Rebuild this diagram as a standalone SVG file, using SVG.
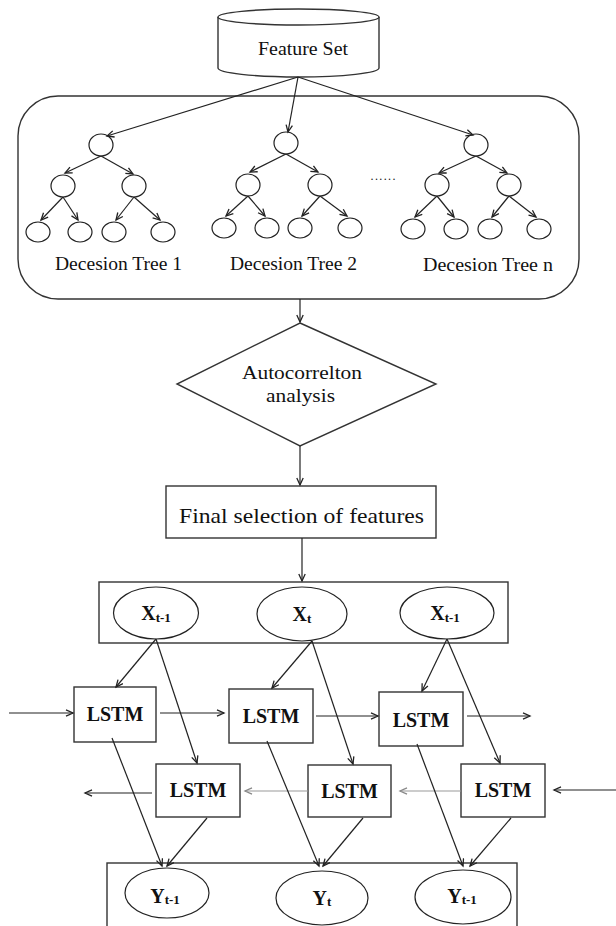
<svg xmlns="http://www.w3.org/2000/svg" width="616" height="926" viewBox="0 0 616 926">
<defs>
<marker id="arr" markerUnits="userSpaceOnUse" markerWidth="10" markerHeight="10" refX="8" refY="4" orient="auto">
<path d="M1,0.8 L8,4 L1,7.2" fill="none" stroke="#222" stroke-width="1.3"/>
</marker>
<marker id="arrg" markerUnits="userSpaceOnUse" markerWidth="10" markerHeight="10" refX="8" refY="4" orient="auto">
<path d="M1,0.8 L8,4 L1,7.2" fill="none" stroke="#888" stroke-width="1.3"/>
</marker>
<style>
.t{font-family:"Liberation Serif","Times New Roman",serif;fill:#111;}
.b{font-weight:bold;}
.sh{fill:#fff;stroke:#333;stroke-width:1.4;}
.c{fill:#fff;stroke:#222;stroke-width:1.2;}
.ln{fill:none;stroke:#222;stroke-width:1.2;marker-end:url(#arr);}
.lg{fill:none;stroke:#999;stroke-width:1.2;marker-end:url(#arrg);}
</style>
</defs>
<rect width="616" height="926" fill="#fff"/>

<g id="container">
<rect class="sh" x="18" y="96" width="561" height="203" rx="40" ry="40" stroke="#555" stroke-width="1.6"/>
</g>

<g id="feature-set">
<path class="sh" d="M218,17 L218,68 A80.5,9 0 0 0 379,68 L379,17"/>
<ellipse class="sh" cx="298.5" cy="17" rx="80.5" ry="8"/>
<text class="t" x="303" y="55" font-size="19" text-anchor="middle" textLength="90" lengthAdjust="spacingAndGlyphs">Feature Set</text>
</g>

<g id="tree1">
<ellipse class="c" cx="101" cy="145" rx="12" ry="11"/>
<ellipse class="c" cx="63" cy="186" rx="12" ry="11"/>
<ellipse class="c" cx="134" cy="186" rx="12" ry="11"/>
<ellipse class="c" cx="38" cy="232" rx="12" ry="10"/>
<ellipse class="c" cx="80" cy="232" rx="12" ry="10"/>
<ellipse class="c" cx="114" cy="232" rx="12" ry="10"/>
<ellipse class="c" cx="163" cy="232" rx="12" ry="10"/>
<text class="t" x="118.5" y="270" font-size="18" text-anchor="middle" textLength="127" lengthAdjust="spacingAndGlyphs">Decesion Tree 1</text>
</g>

<g id="tree2">
<ellipse class="c" cx="286" cy="143" rx="12" ry="11"/>
<ellipse class="c" cx="248" cy="185" rx="12" ry="11"/>
<ellipse class="c" cx="320" cy="185" rx="12" ry="11"/>
<ellipse class="c" cx="224" cy="228" rx="12" ry="10"/>
<ellipse class="c" cx="267" cy="228" rx="12" ry="10"/>
<ellipse class="c" cx="300" cy="228" rx="12" ry="10"/>
<ellipse class="c" cx="350" cy="228" rx="12" ry="10"/>
<text class="t" x="293.5" y="270" font-size="18" text-anchor="middle" textLength="127" lengthAdjust="spacingAndGlyphs">Decesion Tree 2</text>
</g>

<g id="dots">
<text class="t" x="383" y="180" font-size="12" text-anchor="middle" textLength="25" lengthAdjust="spacing">......</text>
</g>

<g id="treen">
<ellipse class="c" cx="476" cy="145" rx="12" ry="11"/>
<ellipse class="c" cx="437" cy="185" rx="12" ry="11"/>
<ellipse class="c" cx="509" cy="185" rx="12" ry="11"/>
<ellipse class="c" cx="413" cy="229" rx="12" ry="10"/>
<ellipse class="c" cx="456" cy="229" rx="12" ry="10"/>
<ellipse class="c" cx="490" cy="229" rx="12" ry="10"/>
<ellipse class="c" cx="539" cy="229" rx="12" ry="10"/>
<text class="t" x="488" y="271" font-size="18" text-anchor="middle" textLength="130" lengthAdjust="spacingAndGlyphs">Decesion Tree n</text>
</g>

<g id="autocorrelation">
<polygon class="sh" points="300,323 436,384 300,446 177,384"/>
<text class="t" x="302" y="379" font-size="18" text-anchor="middle" textLength="120" lengthAdjust="spacingAndGlyphs">Autocorrelton</text>
<text class="t" x="300.5" y="402" font-size="18" text-anchor="middle" textLength="69" lengthAdjust="spacingAndGlyphs">analysis</text>
</g>

<g id="final-selection">
<rect class="sh" x="166" y="486" width="270" height="52"/>
<text class="t" x="301.5" y="523" font-size="21" text-anchor="middle" textLength="245" lengthAdjust="spacingAndGlyphs">Final selection of features</text>
</g>

<g id="x-layer">
<rect class="sh" x="99" y="582" width="409" height="61"/>
<ellipse class="c" cx="156" cy="613" rx="42.5" ry="26"/>
<ellipse class="c" cx="302" cy="614" rx="45" ry="27"/>
<ellipse class="c" cx="447" cy="613" rx="47" ry="26"/>
<text class="t b" x="156" y="620" font-size="20" text-anchor="middle">X<tspan font-size="13" dy="2">t-1</tspan></text>
<text class="t b" x="302" y="621" font-size="20" text-anchor="middle">X<tspan font-size="13" dy="2">t</tspan></text>
<text class="t b" x="445" y="620" font-size="20" text-anchor="middle">X<tspan font-size="13" dy="2">t-1</tspan></text>
</g>

<g id="lstm-f1"><rect class="sh" x="74" y="687" width="82" height="55"/><text class="t b" x="115" y="721" font-size="20" text-anchor="middle">LSTM</text></g>
<g id="lstm-f2"><rect class="sh" x="229" y="689" width="84" height="54"/><text class="t b" x="271" y="723" font-size="20" text-anchor="middle">LSTM</text></g>
<g id="lstm-f3"><rect class="sh" x="379" y="692" width="84" height="54"/><text class="t b" x="421" y="727" font-size="20" text-anchor="middle">LSTM</text></g>
<g id="lstm-b1"><rect class="sh" x="156" y="764" width="84" height="53"/><text class="t b" x="198" y="797" font-size="20" text-anchor="middle">LSTM</text></g>
<g id="lstm-b2"><rect class="sh" x="308" y="765" width="83" height="52"/><text class="t b" x="349.5" y="798" font-size="20" text-anchor="middle">LSTM</text></g>
<g id="lstm-b3"><rect class="sh" x="461" y="764" width="84" height="53"/><text class="t b" x="503" y="797" font-size="20" text-anchor="middle">LSTM</text></g>

<g id="y-layer">
<rect class="sh" x="107" y="863" width="410" height="80"/>
<ellipse class="c" cx="167" cy="893" rx="42" ry="25"/>
<ellipse class="c" cx="322" cy="898" rx="46" ry="27"/>
<ellipse class="c" cx="463" cy="897" rx="48" ry="27"/>
<text class="t b" x="165" y="903" font-size="20" text-anchor="middle">Y<tspan font-size="13" dy="1">t-1</tspan></text>
<text class="t b" x="322" y="905" font-size="20" text-anchor="middle">Y<tspan font-size="13" dy="1">t</tspan></text>
<text class="t b" x="462" y="903" font-size="20" text-anchor="middle">Y<tspan font-size="13" dy="1">t-1</tspan></text>
</g>

<g id="connectors">
<path class="ln" d="M298,77 L107,136"/>
<path class="ln" d="M298,77 L288,132"/>
<path class="ln" d="M298,77 L473,135"/>

<path class="ln" d="M101,156 L65,173"/>
<path class="ln" d="M101,156 L133,174"/>
<path class="ln" d="M63,197 L41,220"/>
<path class="ln" d="M63,197 L78,220"/>
<path class="ln" d="M134,197 L116,220"/>
<path class="ln" d="M134,197 L160,220"/>

<path class="ln" d="M286,154 L250,172"/>
<path class="ln" d="M286,154 L318,172"/>
<path class="ln" d="M248,196 L226,216"/>
<path class="ln" d="M248,196 L265,216"/>
<path class="ln" d="M320,196 L302,216"/>
<path class="ln" d="M320,196 L347,216"/>

<path class="ln" d="M476,156 L439,173"/>
<path class="ln" d="M476,156 L507,173"/>
<path class="ln" d="M437,196 L415,217"/>
<path class="ln" d="M437,196 L454,217"/>
<path class="ln" d="M509,196 L492,217"/>
<path class="ln" d="M509,196 L536,217"/>

<path class="ln" d="M300,299 L300,322"/>
<path class="ln" d="M300,446 L300,485"/>
<path class="ln" d="M302,538 L302,581"/>

<path class="ln" d="M156,639 L116,687"/>
<path class="ln" d="M156,639 L197,763"/>
<path class="ln" d="M312,641 L272,688"/>
<path class="ln" d="M312,641 L353,764"/>
<path class="ln" d="M447,639 L422,691"/>
<path class="ln" d="M447,639 L500,763"/>

<path class="ln" d="M9,713 L73,713"/>
<path class="ln" d="M160,713 L224,713"/>
<path class="ln" d="M316,716 L378,716"/>
<path class="ln" d="M467,716 L530,716"/>

<path class="ln" d="M616,790 L554,790"/>
<path class="lg" d="M461,791 L400,791"/>
<path class="lg" d="M308,791 L245,791"/>
<path class="ln" d="M152,793 L85,793"/>

<path class="ln" d="M112,738 L162,866"/>
<path class="ln" d="M207,818 L167,866"/>
<path class="ln" d="M267,741 L319,866"/>
<path class="ln" d="M363,818 L323,866"/>
<path class="ln" d="M417,744 L463,866"/>
<path class="ln" d="M511,818 L470,866"/>
</g>
</svg>
